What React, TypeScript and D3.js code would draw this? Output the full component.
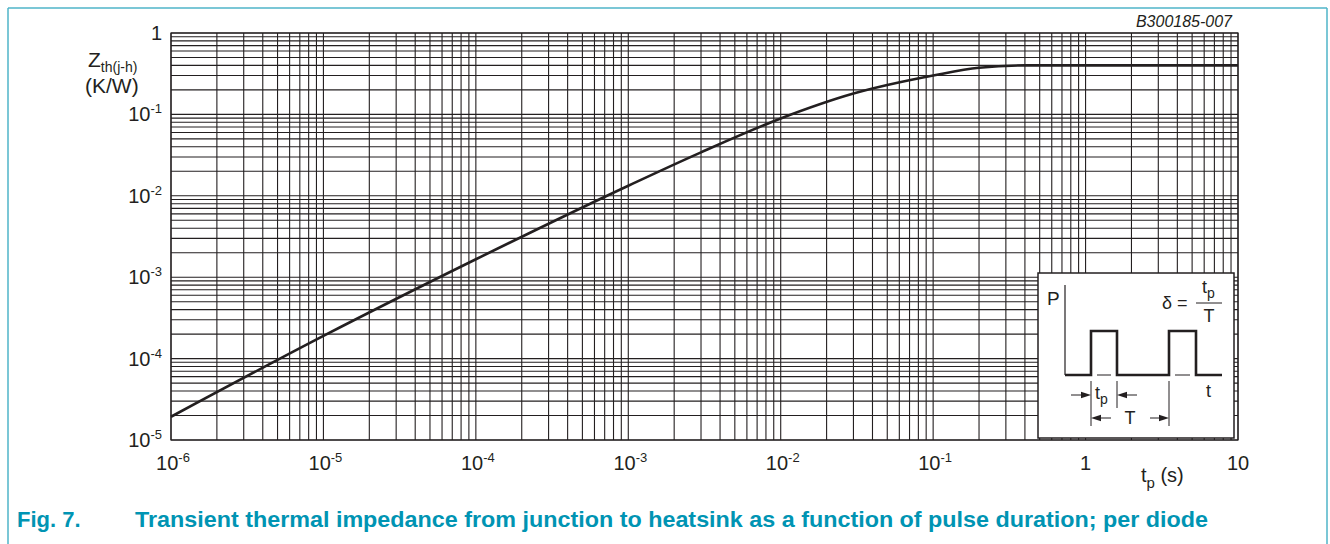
import React from 'react';
import * as d3 from 'd3';

// pulse duration (s) and transient thermal impedance Zth(j-h) (K/W)
const tpValues = [1e-6, 1e-5, 1e-4, 1e-3, 3e-3, 1e-2, 3e-2, 1e-1, 2e-1, 4e-1, 1, 10];
const zthValues = [1.93e-5, 1.9e-4, 1.66e-3, 0.0133, 0.0342, 0.089, 0.18, 0.30, 0.375, 0.40, 0.40, 0.40];

const xTickValues = [1e-6, 1e-5, 1e-4, 1e-3, 1e-2, 1e-1, 1, 10];
const xTickLabels = [['10', '-6'], ['10', '-5'], ['10', '-4'], ['10', '-3'], ['10', '-2'], ['10', '-1'], ['1', ''], ['10', '']];
const yTickValues = [1, 1e-1, 1e-2, 1e-3, 1e-4, 1e-5];
const yTickLabels = [['1', ''], ['10', '-1'], ['10', '-2'], ['10', '-3'], ['10', '-4'], ['10', '-5']];

const captionFig = 'Fig. 7.';
const captionText = 'Transient thermal impedance from junction to heatsink as a function of pulse duration; per diode';

const W = 1330;
const H = 544;
const left = 171;
const right = 1238;
const top = 33;
const bottom = 440;
const font = '"Liberation Sans", Arial, sans-serif';
const ink = '#231f20';

const Arrow = ({ x, y, dir }: { x: number; y: number; dir: number }) => (
  <polygon points={`${x},${y} ${x - dir * 10},${y - 3.2} ${x - dir * 10},${y + 3.2}`} fill={ink} />
);

const Inset = () => {
  const base = 375;
  const high = 331;
  return (
    <g fontFamily={font} fill={ink}>
      <rect x={1038} y={273} width={196} height={165} fill="#fff" stroke={ink} strokeWidth={1.5} />
      <text x={1047} y={305} fontSize={19}>P</text>
      <line x1={1065} y1={285} x2={1065} y2={base} stroke={ink} strokeWidth={1.2} />
      <path
        d={`M1065,${base} H1091 V${high} H1117 V${base} H1169 V${high} H1196 V${base} H1222`}
        fill="none" stroke={ink} strokeWidth={2.6}
      />
      <line x1={1097} y1={base} x2={1111} y2={base} stroke={ink} strokeWidth={1} />
      <line x1={1175} y1={base} x2={1190} y2={base} stroke={ink} strokeWidth={1} />
      <text x={1206} y={397} fontSize={18}>t</text>
      {/* tp dimension */}
      <line x1={1091} y1={381} x2={1091} y2={426} stroke={ink} strokeWidth={1} />
      <line x1={1117} y1={381} x2={1117} y2={408} stroke={ink} strokeWidth={1} />
      <line x1={1071} y1={395} x2={1085} y2={395} stroke={ink} strokeWidth={1} />
      <Arrow x={1091} y={395} dir={1} />
      <line x1={1123} y1={395} x2={1137} y2={395} stroke={ink} strokeWidth={1} />
      <Arrow x={1117} y={395} dir={-1} />
      <text x={1095} y={399} fontSize={18}>t<tspan fontSize={14} dy={5}>p</tspan></text>
      {/* T dimension */}
      <line x1={1169} y1={381} x2={1169} y2={426} stroke={ink} strokeWidth={1} />
      <line x1={1097} y1={418} x2={1111} y2={418} stroke={ink} strokeWidth={1} />
      <Arrow x={1091} y={418} dir={-1} />
      <line x1={1150} y1={418} x2={1163} y2={418} stroke={ink} strokeWidth={1} />
      <Arrow x={1169} y={418} dir={1} />
      <text x={1130} y={424} fontSize={18} textAnchor="middle">T</text>
      {/* duty cycle */}
      <text x={1162} y={309} fontSize={18}>δ =</text>
      <line x1={1196} y1={303} x2={1222} y2={303} stroke={ink} strokeWidth={1} />
      <text x={1202} y={293} fontSize={18}>t<tspan fontSize={14} dy={5}>p</tspan></text>
      <text x={1209} y={322} fontSize={18} textAnchor="middle">T</text>
    </g>
  );
};

const Label = ({ base, sup }: { base: string; sup: string }) => (
  <>
    {base}
    {sup && (
      <tspan fontSize={13} dy={-8}>{sup}</tspan>
    )}
  </>
);

const App = () => {
  const x = d3.scaleLog().domain([1e-6, 10]).range([left, right]);
  const y = d3.scaleLog().domain([1e-5, 1]).range([bottom, top]);

  const xGrid = x.ticks();
  const yGrid = y.ticks();

  const line = d3
    .line<number>()
    .x((_, i) => x(tpValues[i]))
    .y((d) => y(d))
    .curve(d3.curveMonotoneX);

  return (
    <svg width={W} height={H} style={{ position: 'absolute', left: 0, top: 0, background: '#fff' }}>
      {/* page frame */}
      <g stroke="#4fb4c9" strokeWidth={1.5}>
        <line x1={8} y1={8} x2={1327} y2={8} />
        <line x1={8} y1={8} x2={8} y2={H} />
        <line x1={1327} y1={8} x2={1327} y2={H} />
      </g>

      {/* grid */}
      <g stroke={ink} strokeWidth={1.1}>
        {xGrid.map((t, i) => (
          <line key={`x${i}`} x1={x(t)} x2={x(t)} y1={top} y2={bottom} />
        ))}
        {yGrid.map((t, i) => (
          <line key={`y${i}`} x1={left} x2={right} y1={y(t)} y2={y(t)} />
        ))}
      </g>
      <rect x={left} y={top} width={right - left} height={bottom - top} fill="none" stroke={ink} strokeWidth={1.2} />

      <Inset />

      {/* curve */}
      <path d={line(zthValues) ?? ''} fill="none" stroke={ink} strokeWidth={2.6} />

      {/* x tick labels */}
      <g fontFamily={font} fontSize={20} fill={ink} textAnchor="middle">
        {xTickValues.map((t, i) => (
          <text key={i} x={x(t) + (xTickLabels[i][1] ? 2 : 0)} y={470}>
            <Label base={xTickLabels[i][0]} sup={xTickLabels[i][1]} />
          </text>
        ))}
      </g>

      {/* y tick labels */}
      <g fontFamily={font} fontSize={20} fill={ink} textAnchor="end">
        {yTickValues.map((t, i) => (
          <text key={i} x={162} y={y(t) + 7}>
            <Label base={yTickLabels[i][0]} sup={yTickLabels[i][1]} />
          </text>
        ))}
      </g>

      {/* axis titles */}
      <g fontFamily={font} fill={ink}>
        <text x={88} y={67} fontSize={21}>Z<tspan fontSize={14} dy={5}>th(j-h)</tspan></text>
        <text x={85} y={93} fontSize={21}>(K/W)</text>
        <text x={1141} y={482} fontSize={20}>t<tspan fontSize={15} dy={6}>p</tspan><tspan dy={-6}> (s)</tspan></text>
        <text x={1232} y={27} fontSize={16} fontStyle="italic" textAnchor="end">B300185-007</text>
      </g>

      <g fontFamily={font} fontSize={22} fontWeight="bold" fill="#0094b3">
        <text x={17} y={527}>{captionFig}</text>
        <text x={135} y={527} textLength={1073} lengthAdjust="spacingAndGlyphs">{captionText}</text>
      </g>
    </svg>
  );
};

export default App;
